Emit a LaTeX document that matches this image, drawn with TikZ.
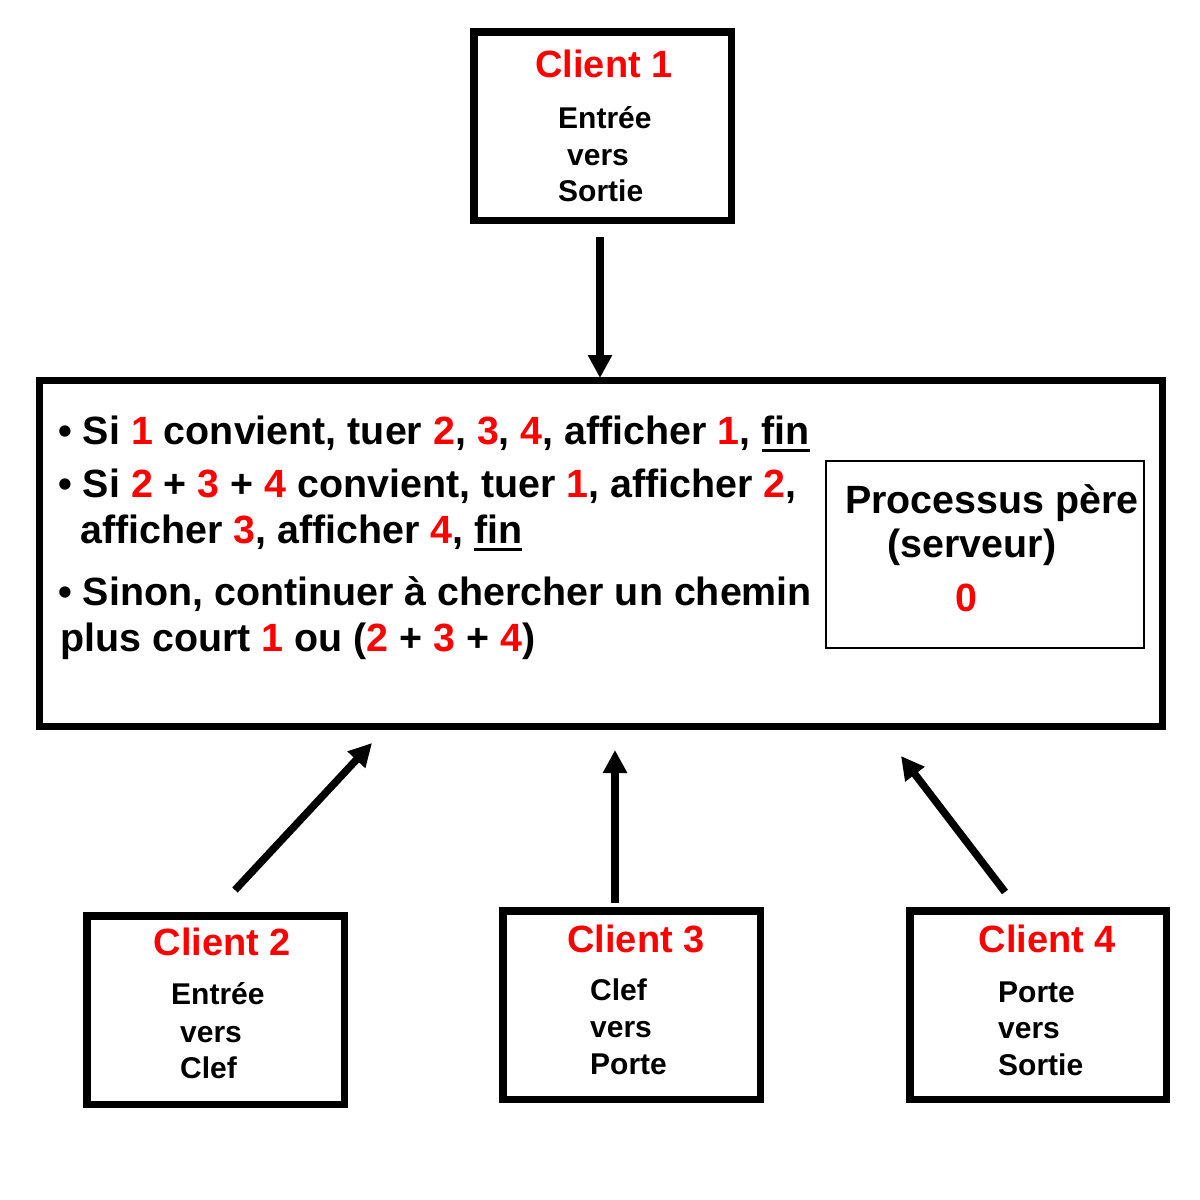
\documentclass[tikz,border=0pt]{standalone}
\usepackage{fontspec}
\setmainfont{Liberation Sans}
\usetikzlibrary{arrows.meta}
\definecolor{rd}{RGB}{255,0,0}
\newcommand\R[1]{\textcolor{rd}{#1}}
\newcommand\myul[1]{\setbox0\hbox{#1}\leavevmode\rlap{\rule[-8pt]{\wd0}{3pt}}\box0}
\tikzset{
  clientbox/.style={draw=black, line width=7.5pt, inner sep=0pt, outer sep=0pt, minimum width=257.5pt, minimum height=188.5pt},
  mainbox/.style={draw=black, line width=7pt, inner sep=0pt, outer sep=0pt},
  innerbox/.style={draw=black, line width=2pt, inner sep=0pt, outer sep=0pt},
  ctitle/.style={anchor=base, inner sep=0pt, text=rd, font=\fontsize{38}{38}\selectfont\bfseries},
  cbody/.style={anchor=base west, inner sep=0pt, font=\fontsize{30}{30}\selectfont\bfseries},
  mline/.style={anchor=base west, inner sep=0pt, font=\fontsize{39.4}{39.4}\selectfont\bfseries},
  conn/.style={line width=7.5pt, -{Triangle[length=23pt,width=23pt]}}
}
\begin{document}
\begin{tikzpicture}[x=1pt,y=-1pt]
\useasboundingbox (0,0) rectangle (1200,1200);
% boxes
\node[clientbox] (c1) at (602.5,126) {};
\node[clientbox] (c2) at (215.5,1010) {};
\node[clientbox] (c3) at (631.5,1005) {};
\node[clientbox, minimum width=256.5pt] (c4) at (1038,1005) {};
\node[mainbox, minimum width=1123pt, minimum height=346pt] (srv) at (601,553.5) {};
\node[innerbox, minimum width=318pt, minimum height=187pt] (pere) at (985,554.5) {};
% client 1
\node[ctitle] (t1) at (604,77) {Client 1};
\node[cbody] (b1a) at (558,128) {Entrée};
\node[cbody] (b1b) at (567,165) {vers};
\node[cbody] (b1c) at (558,201) {Sortie};
% client 2
\node[ctitle] (t2) at (222.5,955) {Client 2};
\node[cbody] (b2a) at (171,1004) {Entrée};
\node[cbody] (b2b) at (180,1042) {vers};
\node[cbody] (b2c) at (180,1078) {Clef};
% client 3
\node[ctitle] (t3) at (636,952) {Client 3};
\node[cbody] (b3a) at (590,1000) {Clef};
\node[cbody] (b3b) at (590,1037) {vers};
\node[cbody] (b3c) at (590,1074) {Porte};
% client 4
\node[ctitle] (t4) at (1047.5,952) {Client 4};
\node[cbody] (b4a) at (998,1002) {Porte};
\node[cbody] (b4b) at (998,1038) {vers};
\node[cbody] (b4c) at (998,1075) {Sortie};
% main text
\node[mline] (m1) at (58,444) {• Si \R{1} convient, tuer \R{2}, \R{3}, \R{4}, afficher \R{1}, \myul{fin}};
\node[mline] (m2) at (58,497) {• Si \R{2} + \R{3} + \R{4} convient, tuer \R{1}, afficher \R{2},};
\node[mline] (m3) at (80,543) {afficher \R{3}, afficher \R{4}, \myul{fin}};
\node[mline] (m4) at (58,605) {• Sinon, continuer à chercher un chemin};
\node[mline] (m5) at (60,651) {plus court \R{1} ou (\R{2} + \R{3} + \R{4})};
% processus pere
\node[mline, anchor=base] (p1) at (992,513) {Processus père};
\node[mline, anchor=base] (p2) at (972,557) {(serveur)};
\node[mline, anchor=base, text=rd] (p3) at (966,611) {0};
% connectors
\coordinate (a1s) at (600,237);
\coordinate (a1e) at (600,378);
\coordinate (a2s) at (235,890);
\coordinate (a2e) at (372,743);
\coordinate (a3s) at (615,903);
\coordinate (a3e) at (615,750);
\coordinate (a4s) at (1005,892);
\coordinate (a4e) at (901,756);
\draw[conn] (a1s) -- (a1e);
\draw[conn] (a2s) -- (a2e);
\draw[conn] (a3s) -- (a3e);
\draw[conn] (a4s) -- (a4e);
\end{tikzpicture}
\end{document}
